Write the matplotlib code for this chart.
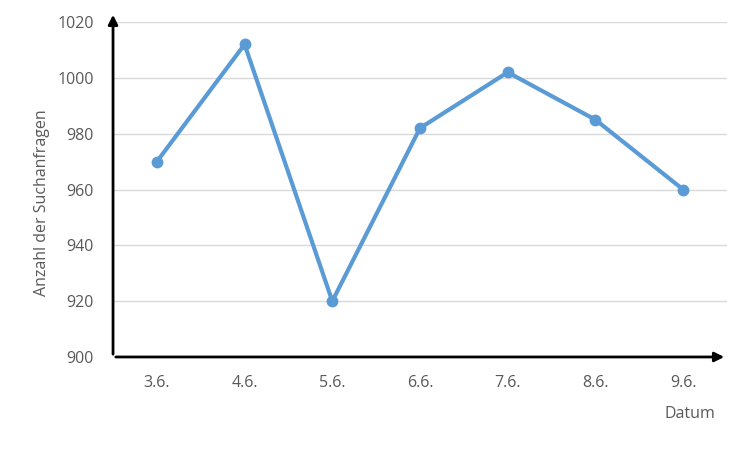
import matplotlib.pyplot as plt

dates = ['3.6.', '4.6.', '5.6.', '6.6.', '7.6.', '8.6.', '9.6.']
requests = [970, 1012, 920, 982, 1002, 985, 960]
yticks = [900, 920, 940, 960, 980, 1000, 1020]

plt.rcParams['font.family'] = ['Open Sans', 'DejaVu Sans']

fig = plt.figure(figsize=(7.5, 4.5), dpi=100)
ax = fig.add_axes([0.1507, 0.2067, 0.8186, 0.7443])

x = list(range(len(dates)))
ax.plot(x, requests, color='#5b9bd5', linewidth=3, marker='o', markersize=7.5, zorder=3, clip_on=False)

ax.set_xlim(-0.5, len(dates) - 0.5)
ax.set_ylim(900, 1020)
ax.set_yticks(yticks)
ax.set_xticks(x)
ax.set_xticklabels(dates)
ax.tick_params(length=0, colors='#595959', labelsize=11.5)
ax.tick_params(axis='x', pad=13)
ax.tick_params(axis='y', pad=14)
ax.grid(axis='y', color='#d9d9d9', linewidth=1)
for s in ax.spines.values():
    s.set_visible(False)

# axis arrows
ax.annotate('', xy=(1.0, 0), xytext=(0, 0), xycoords='axes fraction',
            arrowprops=dict(arrowstyle='-|>', color='black', lw=2, mutation_scale=14))
ax.annotate('', xy=(0, 1.03), xytext=(0, 0), xycoords='axes fraction',
            arrowprops=dict(arrowstyle='-|>', color='black', lw=2, mutation_scale=14))

fig.text(0.056, 0.55, 'Anzahl der Suchanfragen', rotation=90, ha='center', va='center',
         color='#595959', fontsize=11.5)
fig.text(0.92, 0.08, 'Datum', ha='center', va='center', color='#595959', fontsize=11.5)

fig.savefig('out.png', dpi=100)
